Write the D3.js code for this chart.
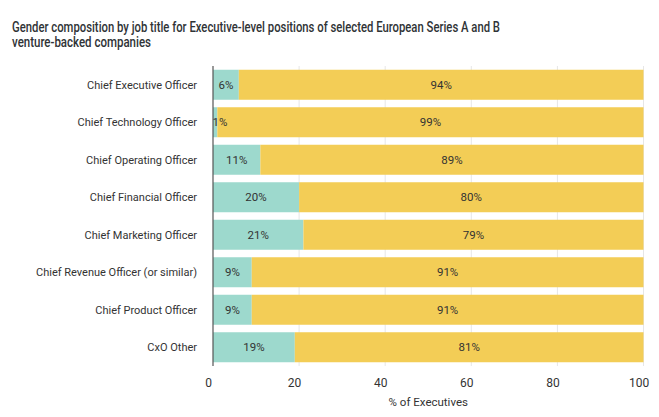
<!DOCTYPE html>
<html>
<head>
<meta charset="utf-8">
<script src="https://cdn.jsdelivr.net/npm/d3@7"></script>
<style>
  body { margin: 0; background: #fff; }
  text { font-family: Roboto, "Open Sans", sans-serif; }
</style>
</head>
<body>
<div id="chart"></div>
<script>
// job titles, top to bottom
const titles = [
  "Chief Executive Officer",
  "Chief Technology Officer",
  "Chief Operating Officer",
  "Chief Financial Officer",
  "Chief Marketing Officer",
  "Chief Revenue Officer (or similar)",
  "Chief Product Officer",
  "CxO Other"
];
// share of women / men, in %
const women = [6, 1, 11, 20, 21, 9, 9, 19];
const men   = [94, 99, 89, 80, 79, 91, 91, 81];
const ticks = [0, 20, 40, 60, 80, 100];

const width = 659, height = 417;
const colWomen = "#9dd9cd", colMen = "#f3cd56";

const svg = d3.select("#chart").append("svg")
  .attr("width", width)
  .attr("height", height);

// title, squeezed to the width of the original's narrow typeface
const titleLines = [
  {text: "Gender composition by job title for Executive-level positions of selected European Series A and B", w: 488},
  {text: "venture-backed companies", w: 139}
];
svg.append("g").selectAll("text")
  .data(titleLines)
  .enter().append("text")
  .attr("x", 12)
  .attr("y", (d, i) => 31.5 + i * 15.5)
  .attr("fill", "#2f3336")
  .style("font-family", "Roboto, sans-serif")
  .style("font-size", "14px")
  .style("font-weight", 500)
  .attr("textLength", d => d.w)
  .attr("lengthAdjust", "spacingAndGlyphs")
  .text(d => d.text);

let x = d3.scaleLinear().domain([0, 100]).range([213, 643.5]);
let y = d3.scaleBand().domain(titles).range([66, 366])
  .paddingInner(0.2).paddingOuter(0.1);

// gridlines
svg.append("g").selectAll("line")
  .data(ticks.slice(1))
  .enter().append("line")
  .attr("x1", d => x(d)).attr("x2", d => x(d))
  .attr("y1", 66).attr("y2", 366)
  .attr("stroke", "#e6e6e6")
  .attr("stroke-width", 1);

const rows = titles.map((t, i) => ({ title: t, women: women[i], men: men[i] }));

const g = svg.append("g").selectAll("g.row")
  .data(rows)
  .enter().append("g")
  .attr("class", "row");

g.append("rect")
  .attr("x", x(0))
  .attr("y", d => y(d.title))
  .attr("width", d => x(d.women) - x(0))
  .attr("height", y.bandwidth())
  .attr("fill", colWomen);

g.append("rect")
  .attr("x", d => x(d.women))
  .attr("y", d => y(d.title))
  .attr("width", d => x(d.women + d.men) - x(d.women))
  .attr("height", y.bandwidth())
  .attr("fill", colMen);

g.append("text")
  .attr("x", d => Math.max(x(d.women / 2), x(0) + 7))
  .attr("y", d => y(d.title) + y.bandwidth() / 2)
  .attr("dy", "0.35em")
  .attr("text-anchor", "middle")
  .attr("fill", "#333")
  .style("font-size", "11.5px")
  .text(d => d.women + "%");

g.append("text")
  .attr("x", d => x(d.women + d.men / 2))
  .attr("y", d => y(d.title) + y.bandwidth() / 2)
  .attr("dy", "0.35em")
  .attr("text-anchor", "middle")
  .attr("fill", "#333")
  .style("font-size", "11.5px")
  .text(d => d.men + "%");

// category labels
g.append("text")
  .attr("x", 197)
  .attr("y", d => y(d.title) + y.bandwidth() / 2)
  .attr("dy", "0.35em")
  .attr("text-anchor", "end")
  .attr("fill", "#333")
  .style("font-size", "11px")
  .text(d => d.title);

// zero axis line
svg.append("line")
  .attr("x1", x(0)).attr("x2", x(0))
  .attr("y1", 66).attr("y2", 366)
  .attr("stroke", "#555")
  .attr("stroke-width", 1.2);

// x axis
const xAxis = svg.append("g")
  .attr("transform", "translate(0,370)")
  .call(d3.axisBottom(x).tickValues(ticks).tickSize(0).tickPadding(8));
xAxis.select(".domain").remove();
xAxis.selectAll("text")
  .attr("dx", -5)
  .attr("fill", "#333")
  .style("font-size", "12px")
  .style("font-family", "Roboto, sans-serif");

svg.append("text")
  .attr("x", (x(0) + x(100)) / 2)
  .attr("y", 406)
  .attr("text-anchor", "middle")
  .attr("fill", "#333")
  .style("font-size", "11.5px")
  .text("% of Executives");
</script>
</body>
</html>
